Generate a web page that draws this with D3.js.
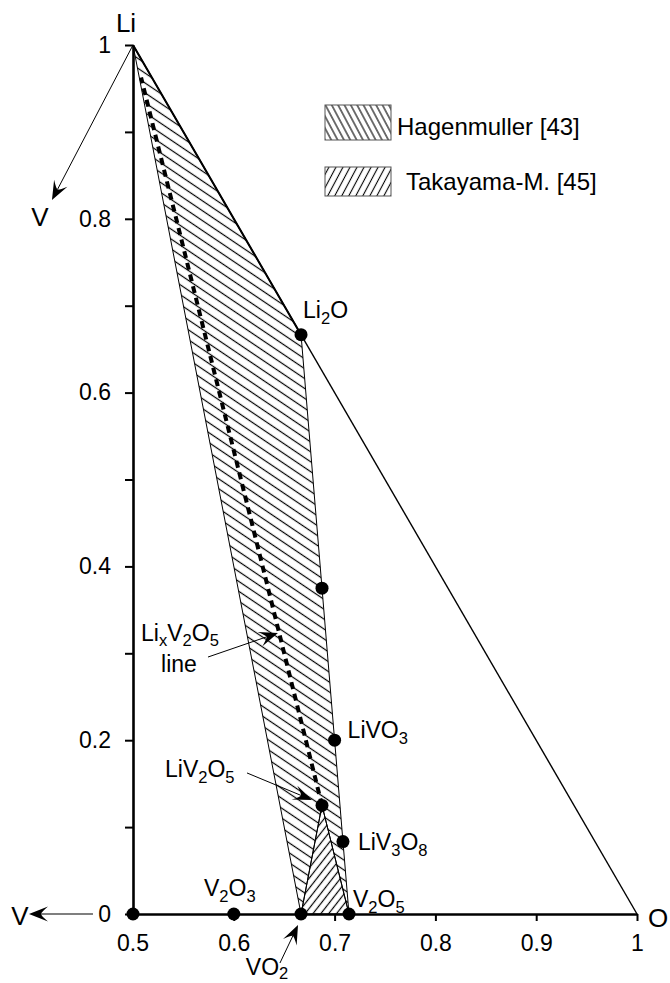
<!DOCTYPE html>
<html>
<head>
<meta charset="utf-8">
<script src="https://cdn.jsdelivr.net/npm/d3@7"></script>
<style>
  html, body { margin: 0; padding: 0; background: #fff; }
  svg { display: block; font-family: "Liberation Sans", Arial, Helvetica, sans-serif; }
</style>
</head>
<body>
<svg id="chart" width="670" height="983"></svg>
<script>
// Li–V–O composition plane: horizontal = O + Li/2, vertical = Li fraction

// Phases (name, horizontal coordinate, Li fraction)
const phaseNames = ["V", "V2O3", "VO2", "V2O5", "Li2O", "Li3VO4", "LiVO3", "LiV2O5", "LiV3O8"];
const phaseX     = [0.5, 0.6, 0.6667, 0.7143, 0.6667, 0.6875, 0.7, 0.6875, 0.7083];
const phaseLi    = [0, 0, 0, 0, 0.6667, 0.375, 0.2, 0.125, 0.0833];

// LixV2O5 composition line (from LiV2O5 towards pure Li)
const lixLineX  = [0.6875, 0.6765, 0.6667, 0.65, 0.6364, 0.625, 0.6071, 0.5882, 0.5682, 0.5469, 0.5263, 0.508];
const lixLineLi = [0.125, 0.1765, 0.2222, 0.3, 0.3636, 0.4167, 0.5, 0.5882, 0.6818, 0.7813, 0.8772, 0.9626];

// Corner points of the diagram
const cornerNames = ["Li", "V", "O"];
const cornerX  = [0.5, 0.5, 1];
const cornerLi = [1, 0, 0];

// Stability regions (vertex names)
const hagenmullerRegion = ["Li", "Li2O", "Li3VO4", "LiVO3", "LiV3O8", "V2O5", "LiV2O5", "VO2"];
const takayamaRegion    = ["LiV2O5", "VO2", "V2O5"];

// Axis ticks
const xTicks = [0.5, 0.6, 0.7, 0.8, 0.9, 1];
const xTickLabels = ["0.5", "0.6", "0.7", "0.8", "0.9", "1"];
const yTicks = [0, 0.1, 0.2, 0.3, 0.4, 0.5, 0.6, 0.7, 0.8, 0.9, 1];
const yTickLabels = ["0", "", "0.2", "", "0.4", "", "0.6", "", "0.8", "", "1"];

// Legend entries
const legendNames = ["Hagenmuller [43]", "Takayama-M. [45]"];

const svg = d3.select("#chart");
const x = d3.scaleLinear().domain([0.5, 1]).range([133, 637]);
const y = d3.scaleLinear().domain([0, 1]).range([914, 45]);

const pt = {};
phaseNames.forEach((n, i) => pt[n] = [phaseX[i], phaseLi[i]]);
cornerNames.forEach((n, i) => pt[n] = [cornerX[i], cornerLi[i]]);

// ---------- hatch patterns ----------
const defs = svg.append("defs");
function hatch(id, angle, step, width) {
  const p = defs.append("pattern")
    .attr("id", id)
    .attr("patternUnits", "userSpaceOnUse")
    .attr("width", step).attr("height", step)
    .attr("patternTransform", `rotate(${angle})`);
  p.append("line")
    .attr("x1", -1).attr("x2", step + 1)
    .attr("y1", step / 2).attr("y2", step / 2)
    .attr("stroke", "#000").attr("stroke-width", width);
}
hatch("hatchH", 34, 8.2, 1.2);
hatch("hatchT", -52, 6.2, 1.2);
hatch("legendH", 62, 5.6, 1.1);
hatch("legendT", -62, 6.2, 1.1);

const poly = d3.line().x(d => x(d[0])).y(d => y(d[1]));
const closed = names => poly(names.map(n => pt[n])) + "Z";

// ---------- regions ----------
svg.append("path")
  .attr("d", closed(hagenmullerRegion))
  .attr("fill", "url(#hatchH)")
  .attr("stroke", "#000").attr("stroke-width", 1).attr("stroke-linejoin", "round");

svg.append("path")
  .attr("d", closed(takayamaRegion))
  .attr("fill", "url(#hatchT)")
  .attr("stroke", "#000").attr("stroke-width", 1);

// Li–O edge of the diagram
svg.append("path")
  .attr("d", poly([pt.Li, pt.O]))
  .attr("stroke", "#000").attr("stroke-width", 1.4).attr("fill", "none");
svg.append("path")
  .attr("d", poly([pt.Li, pt.Li2O]))
  .attr("stroke", "#000").attr("stroke-width", 2).attr("fill", "none");

// LixV2O5 dashed line
svg.append("path")
  .attr("d", d3.line().curve(d3.curveMonotoneY).x(d => x(d[0])).y(d => y(d[1]))(lixLineX.map((v, i) => [v, lixLineLi[i]])))
  .attr("fill", "none").attr("stroke", "#000")
  .attr("stroke-width", 4).attr("stroke-dasharray", "7,5");

// ---------- axes ----------
const xAxis = svg.append("g")
  .attr("transform", `translate(0,${y(0)})`)
  .call(d3.axisBottom(x).tickValues(xTicks.slice(1))
    .tickFormat((d) => xTickLabels[xTicks.indexOf(d)])
    .tickSize(7).tickSizeOuter(0).tickPadding(14));
// 0.5 label sits under the origin without a tick mark
xAxis.append("text").attr("x", x(0.5)).attr("y", 21).attr("dy", "0.71em")
  .text(xTickLabels[0]);

const yAxis = svg.append("g")
  .attr("transform", `translate(${x(0.5)},0)`)
  .call(d3.axisLeft(y).tickValues(yTicks)
    .tickFormat((d, i) => yTickLabels[i])
    .tickSize(8).tickSizeOuter(0).tickPadding(14));

[xAxis, yAxis].forEach(g => {
  g.select(".domain").attr("stroke", "#000").attr("stroke-width", 2.6);
  g.selectAll(".tick line").attr("stroke", "#000").attr("stroke-width", 2);
  g.selectAll("text").attr("fill", "#000").attr("font-size", 23)
    .attr("font-family", "'Liberation Sans', Arial, Helvetica, sans-serif");
});
xAxis.selectAll("text").attr("text-anchor", "middle");

// ---------- arrows ----------
function arrow(p0, p1, width) {
  const x0 = x(p0[0]), y0 = y(p0[1]), x1 = x(p1[0]), y1 = y(p1[1]);
  const ang = Math.atan2(y1 - y0, x1 - x0);
  const L = 19, W = 7.5, N = 12;
  const ex = x1 - N * Math.cos(ang), ey = y1 - N * Math.sin(ang);
  svg.append("line").attr("x1", x0).attr("y1", y0).attr("x2", ex).attr("y2", ey)
    .attr("stroke", "#000").attr("stroke-width", width);
  svg.append("path")
    .attr("d", `M0,0 L${-L},${-W} Q${-N},-1.5 ${-N},0 Q${-N},1.5 ${-L},${W} Z`)
    .attr("transform", `translate(${x1},${y1}) rotate(${ang * 180 / Math.PI})`)
    .attr("fill", "#000");
}
arrow(pt.Li, [0.4196, 0.8216], 1);
arrow([0.4603, 0], [0.3968, 0], 1.2);
arrow([0.5744, 0.2957], [0.6438, 0.3234], 1);
arrow([0.6131, 0.1623], [0.6776, 0.1312], 1);
arrow([0.6458, -0.0564], [0.6637, -0.0127], 1);

// ---------- phase dots ----------
svg.append("g").selectAll("circle")
  .data(phaseNames)
  .join("circle")
  .attr("cx", n => x(pt[n][0]))
  .attr("cy", n => y(pt[n][1]))
  .attr("r", 6.5)
  .attr("fill", "#000");

// ---------- labels ----------
// parts: [text, isSubscript]
function label(px, py, parts, anchor, size, drop) {
  const fs = size || 23;
  const sd = drop || 6;
  const t = svg.append("text").attr("x", px).attr("y", py)
    .attr("text-anchor", anchor || "start")
    .attr("font-size", fs).attr("fill", "#000");
  let sub = false;
  parts.forEach(([s, isSub]) => {
    const ts = t.append("tspan").text(s);
    if (isSub) { ts.attr("font-size", fs * 0.72).attr("dy", sub ? 0 : sd); sub = true; }
    else { if (sub) ts.attr("dy", -sd); sub = false; }
  });
  return t;
}

label(x(pt.Li[0]) - 7, y(1) - 13, [["Li"]], "middle", 26);
label(x(0.4196) - 12, y(0.8216) + 26, [["V"]], "middle", 26);
label(x(0.3968) - 9, y(0) + 11, [["V"]], "middle", 26);
label(x(1) + 21, y(0) + 13, [["O"]], "middle", 26);

label(x(pt.Li2O[0]) + 2, y(pt.Li2O[1]) - 17, [["Li"], ["2", 1], ["O"]]);
label(x(pt.LiVO3[0]) + 13, y(pt.LiVO3[1]) - 2, [["LiVO"], ["3", 1]]);
label(x(pt.LiV3O8[0]) + 15, y(pt.LiV3O8[1]) + 8, [["LiV"], ["3", 1], ["O"], ["8", 1]]);
label(x(pt.V2O5[0]) + 4, y(pt.V2O5[1]) - 7, [["V"], ["2", 1], ["O"], ["5", 1]]);
label(x(pt.V2O3[0]) - 4, y(pt.V2O3[1]) - 18, [["V"], ["2", 1], ["O"], ["3", 1]], "middle");
label(x(pt.VO2[0]) - 34, y(0) + 61, [["VO"], ["2", 1]], "middle", 23, 4);
label(x(0.6131) - 82, y(0.1623) + 4, [["LiV"], ["2", 1], ["O"], ["5", 1]]);
label(x(0.5744) - 28, y(0.2957) - 16, [["Li"], ["x", 1], ["V"], ["2", 1], ["O"], ["5", 1]], "middle", 23, 5);
label(x(0.5744) - 29, y(0.2957) + 15, [["line"]], "middle");

// ---------- legend ----------
const legend = svg.append("g");
const legendFill = ["url(#legendH)", "url(#legendT)"];
const legendBoxY = [105, 167];
const legendBoxH = [35, 29];
const legendTextX = [397, 406];
const legendTextY = [135, 190];
legendNames.forEach((name, i) => {
  legend.append("rect")
    .attr("x", 325).attr("y", legendBoxY[i])
    .attr("width", 66).attr("height", legendBoxH[i])
    .attr("fill", legendFill[i])
    .attr("stroke", "#555").attr("stroke-width", 1);
  legend.append("text")
    .attr("x", legendTextX[i]).attr("y", legendTextY[i])
    .attr("font-size", 24).attr("fill", "#000")
    .text(name);
});
</script>
</body>
</html>
